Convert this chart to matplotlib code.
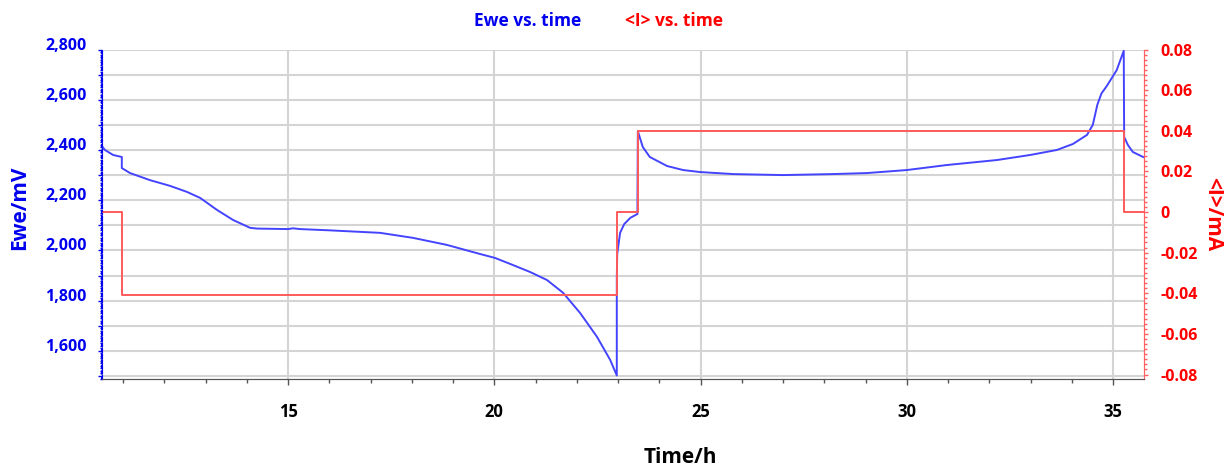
import matplotlib
matplotlib.use("Agg")
import matplotlib.pyplot as plt
from matplotlib.ticker import MultipleLocator, FuncFormatter

plt.rcParams['font.family'] = ['Open Sans', 'DejaVu Sans']
plt.rcParams['font.weight'] = 'bold'

# potential trace (time in h, Ewe in mV)
time_ewe = [10.49, 10.56, 10.76, 10.97, 10.97, 11.17, 11.65, 12.14, 12.55, 12.87,
            13.28, 13.67, 14.08, 14.25, 15.0, 15.12, 15.29, 16.0, 17.23, 18.03,
            18.85, 19.65, 20.02, 20.45, 20.87, 21.28, 21.67, 22.08, 22.49, 22.81,
            22.97, 22.97, 22.98, 23.05, 23.15, 23.3, 23.47, 23.48, 23.60, 23.77,
            24.19, 24.58, 24.99, 25.79, 27.0, 28.21, 29.03, 30.0, 30.97, 32.19,
            32.99, 33.64, 34.03, 34.37, 34.51, 34.62, 34.72, 34.85, 35.09, 35.26,
            35.27, 35.36, 35.48, 35.73]
ewe = [2415, 2400, 2380, 2372, 2328, 2308, 2280, 2257, 2233, 2209,
       2161, 2121, 2090, 2087, 2085, 2088, 2085, 2080, 2070, 2050,
       2022, 1986, 1970, 1942, 1914, 1882, 1831, 1751, 1656, 1564,
       1502, 1890, 1985, 2070, 2105, 2130, 2145, 2475, 2412, 2372,
       2336, 2320, 2312, 2304, 2300, 2304, 2308, 2320, 2340, 2360,
       2380, 2400, 2424, 2460, 2500, 2580, 2625, 2655, 2718, 2795,
       2452, 2420, 2392, 2372]

# applied current steps (time in h, <I> in mA)
time_i = [10.49, 10.97, 22.97, 23.48, 35.27, 35.75]
current = [0.0, -0.041, 0.0, 0.04, 0.0, 0.0]

blue = '#0000ee'
red = '#ff0000'

fig = plt.figure(figsize=(12.29, 4.71), dpi=100)
ax = fig.add_axes([0.083, 0.1953, 0.8478, 0.6996])
ax2 = ax.twinx()

ax.plot(time_ewe, ewe, color='#4444ff', lw=1.4, zorder=3)
ax2.plot(time_i, current, color='#ff5a5a', lw=1.4, drawstyle='steps-post')

ax.set_xlim(10.49, 35.75)
ax.set_ylim(1488, 2800)
ax2.set_ylim(-0.0822, 0.08)

# x axis
ax.xaxis.set_major_locator(MultipleLocator(5))
ax.xaxis.set_minor_locator(MultipleLocator(1))
ax.tick_params(axis='x', which='both', direction='out', colors='#555555',
               labelcolor='black', labelsize=12, pad=13)
ax.tick_params(axis='x', which='major', length=4, width=1)
ax.tick_params(axis='x', which='minor', length=3, width=1)
ax.set_xlabel('Time/h', fontsize=15, fontweight='bold', va='center')
ax.xaxis.set_label_coords(0.555, -0.237)

# left axis
ax.yaxis.set_major_locator(MultipleLocator(100))
ax.yaxis.set_minor_locator(MultipleLocator(10))
ax.yaxis.set_major_formatter(FuncFormatter(
    lambda v, p: f'{v:,.0f}' if round(v) % 200 == 0 else ''))
ax.tick_params(axis='y', which='both', colors=blue, labelsize=11.5)
ax.tick_params(axis='y', which='major', length=3, width=1, pad=8)
ax.tick_params(axis='y', which='minor', length=1.5, width=1)
for lab in ax.get_yticklabels():
    lab.set_verticalalignment('baseline')
ax.set_ylabel('Ewe/mV', color=blue, fontsize=15, fontweight='bold',
              va='center')
ax.yaxis.set_label_coords(-0.079, 0.52)

ax.grid(True, which='major', color='#d4d4d4', lw=1.5, zorder=0)

# right axis
ax2.yaxis.set_major_locator(MultipleLocator(0.02))
ax2.yaxis.set_minor_locator(MultipleLocator(0.0025))
ax2.yaxis.set_major_formatter(FuncFormatter(
    lambda v, p: '0' if abs(v) < 1e-9 else f'{v:.2f}'))
ax2.tick_params(axis='y', which='both', colors='#ff6060', labelcolor=red,
                labelsize=11.5)
ax2.tick_params(axis='y', which='major', length=3, width=1, pad=9)
ax2.tick_params(axis='y', which='minor', length=2, width=1)
ax2.set_ylabel('<I>/mA', color=red, fontsize=15, fontweight='bold',
               rotation=-90, va='center')
ax2.yaxis.set_label_coords(1.066, 0.5)

for a in (ax, ax2):
    a.spines['top'].set_visible(False)
    a.spines['left'].set_color(blue)
    a.spines['left'].set_linestyle(':')
    a.spines['right'].set_color('#ff6060')
    a.spines['bottom'].set_color('#555555')
ax.spines['left'].set_linewidth(1.5)

fig.text(528 / 1229, 1 - 20.5 / 471, 'Ewe vs. time', color=blue,
         fontsize=12.5, fontweight='bold', ha='center', va='center')
fig.text(674 / 1229, 1 - 20.5 / 471, '<I> vs. time', color=red,
         fontsize=12.5, fontweight='bold', ha='center', va='center')

fig.savefig('out.png', dpi=100)
